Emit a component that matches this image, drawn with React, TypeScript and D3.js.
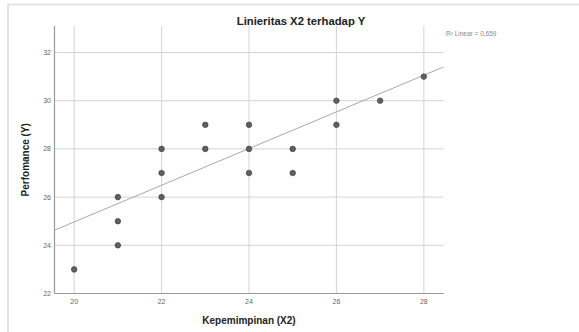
import React from "react";
import * as d3 from "d3";

const xValues = [20, 21, 21, 21, 22, 22, 22, 23, 23, 24, 24, 24, 25, 25, 26, 26, 27, 28];
const yValues = [23, 24, 25, 26, 26, 27, 28, 28, 29, 27, 28, 29, 27, 28, 29, 30, 30, 31];
const xTicks = [20, 22, 24, 26, 28];
const yTicks = [22, 24, 26, 28, 30, 32];
const fitIntercept = 9.75;
const fitSlope = 0.761;
const title = "Linieritas X2 terhadap Y";
const xLabel = "Kepemimpinan (X2)";
const yLabel = "Perfomance (Y)";
const r2Label = "R² Linear = 0,659";

const W = 579;
const H = 332;
const M = { left: 54.5, right: 443.5, top: 26, bottom: 293.5 };
const FONT = "Arial, 'Liberation Sans', sans-serif";

export default function App() {
  const x = d3.scaleLinear().domain([19.55, 28.45]).range([M.left, M.right]);
  const y = d3.scaleLinear().domain([22, 33.1]).range([M.bottom, M.top]);
  const [x0, x1] = x.domain();
  const line = d3
    .line<number>()
    .x((d) => x(d))
    .y((d) => y(fitIntercept + fitSlope * d));

  return (
    <svg
      width={W}
      height={H}
      style={{ position: "absolute", left: 0, top: 0, display: "block", background: "#fff" }}
    >
      <rect x={0} y={0} width={W} height={H} fill="#fff" />
      {/* outer frame */}
      <line x1={8} y1={4.5} x2={W} y2={4.5} stroke="#e3e3e3" strokeWidth={2} />
      <line x1={8} y1={4.5} x2={8} y2={H} stroke="#e3e3e3" strokeWidth={2} />

      <text x={301} y={25} textAnchor="middle" fontFamily={FONT} fontWeight="bold" fontSize={11.3} fill="#222">
        {title}
      </text>

      {/* grid */}
      {yTicks.map((t) => (
        <line key={"gy" + t} x1={M.left} x2={M.right} y1={y(t)} y2={y(t)} stroke="#d4d4d4" strokeWidth={1} />
      ))}
      {xTicks.map((t) => (
        <line key={"gx" + t} x1={x(t)} x2={x(t)} y1={M.top} y2={M.bottom} stroke="#d4d4d4" strokeWidth={1} />
      ))}

      {/* axes */}
      <line x1={M.left} x2={M.left} y1={M.top} y2={M.bottom} stroke="#9a9a9a" strokeWidth={1.2} />
      <line x1={M.left} x2={M.right} y1={M.bottom} y2={M.bottom} stroke="#9a9a9a" strokeWidth={1.2} />

      {yTicks.map((t) => (
        <text key={"ty" + t} x={51} y={y(t) + 2.5} textAnchor="end" fontFamily={FONT} fontSize={7} fill="#666">
          {t}
        </text>
      ))}
      {xTicks.map((t) => (
        <text key={"tx" + t} x={x(t)} y={304} textAnchor="middle" fontFamily={FONT} fontSize={7} fill="#666">
          {t}
        </text>
      ))}

      {/* fit line */}
      <path d={line([x0, x1]) || ""} fill="none" stroke="#a8a8a8" strokeWidth={1} />

      {/* points */}
      {xValues.map((xv, i) => (
        <circle key={i} cx={x(xv)} cy={y(yValues[i])} r={2.8} fill="#5f5f5f" stroke="#3a3a3a" strokeWidth={0.6} />
      ))}

      <text x={446} y={36} fontFamily={FONT} fontSize={6.5} fill="#888">
        {r2Label}
      </text>

      <text x={249} y={324} textAnchor="middle" fontFamily={FONT} fontWeight="bold" fontSize={10} fill="#222">
        {xLabel}
      </text>
      <text
        transform={`translate(29, ${(M.top + M.bottom) / 2}) rotate(-90)`}
        textAnchor="middle"
        fontFamily={FONT}
        fontWeight="bold"
        fontSize={10}
        fill="#222"
      >
        {yLabel}
      </text>
    </svg>
  );
}
